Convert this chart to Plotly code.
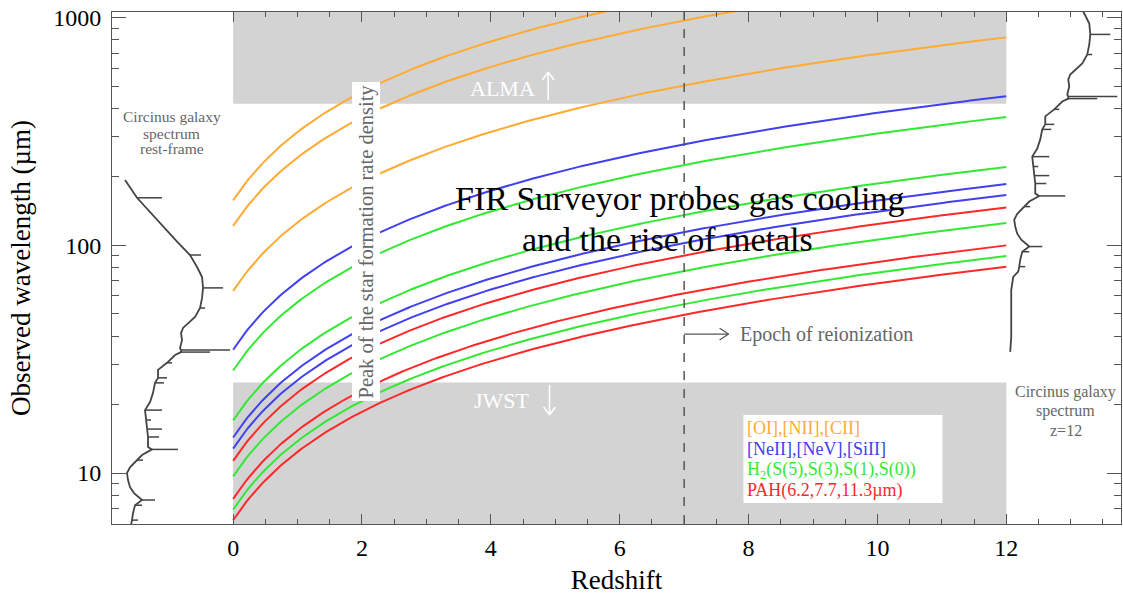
import numpy as np
import plotly.graph_objects as go

# ---------------- data ----------------
# rest-frame wavelengths (micron) of the tracked lines
fine_structure_oi_nii_cii = [63.18, 121.9, 157.7]
fine_structure_ne_si = [12.81, 14.32, 34.82]
h2_rotational = [6.91, 9.66, 17.03, 28.22]
pah_features = [6.2, 7.7, 11.3]

z_max = 12.0
z_reionization = 7.0
alma_min_wavelength = 420.0
jwst_max_wavelength = 25.0

# Circinus galaxy rest-frame spectrum (continuum), relative flux
spec_wavelength = [2.62, 3.05, 4.0, 4.9, 5.6, 5.91, 6.21, 6.66, 7.22, 7.61, 8.16, 8.67,
                   9.31, 10.0, 10.6, 11.4, 12.0, 12.7, 13.0, 14.4, 15.6, 17.1, 18.9,
                   20.5, 22.5, 24.9, 26.2, 28.4, 30.5, 33.0, 34.0, 34.7, 35.4, 38.4,
                   41.2, 43.4, 48.5, 53.1, 58.8, 65.1, 72.7, 80.4, 90.8, 104, 121,
                   143, 162, 194]
spec_flux = [0.11, 0.12, 0.12, 0.12, 0.14, 0.19, 0.20, 0.21, 0.23, 0.30, 0.22, 0.18,
             0.16, 0.15, 0.18, 0.25, 0.30, 0.40, 0.36, 0.36, 0.35, 0.34, 0.33,
             0.38, 0.41, 0.43, 0.46, 0.46, 0.55, 0.63, 0.69, 0.69, 0.68, 0.70,
             0.69, 0.71, 0.83, 0.88, 0.90, 0.91, 0.90, 0.85, 0.78, 0.65, 0.51,
             0.36, 0.25, 0.13]
# emission lines in the spectrum: wavelength, continuum level, peak level
emis_wavelength = [6.21, 7.22, 7.61, 11.4, 12.7, 14.4, 15.6, 17.1, 18.9, 24.9, 26.2,
                   30.5, 34.0, 34.7, 53.1, 65.1, 90.8, 162]
emis_base = [0.20, 0.23, 0.30, 0.25, 0.40, 0.36, 0.35, 0.34, 0.33, 0.43, 0.46,
             0.55, 0.69, 0.69, 0.88, 0.91, 0.78, 0.25]
emis_peak = [0.26, 0.30, 0.43, 0.31, 0.66, 0.47, 0.50, 0.39, 0.50, 0.52, 0.55,
             0.60, 0.98, 1.18, 0.93, 1.11, 0.89, 0.50]

x_ticks = [0, 2, 4, 6, 8, 10, 12]
y_ticks = [10, 100, 1000]

legend_labels = ["[OI],[NII],[CII]", "[NeII],[NeV],[SiII]",
                 "H<sub>2</sub>(S(5),S(3),S(1),S(0))", "PAH(6.2,7.7,11.3\u00b5m)"]

# ---------------- style ----------------
FONT = "Liberation Serif"
C_ORANGE = "#FFAA33"
C_BLUE = "#4040F0"
C_GREEN = "#33E833"
C_RED = "#FF2828"
C_SPEC = "#444444"
C_BAND = "#D3D3D3"
C_TXT = "#666666"
C_AX = "#555555"

X_RANGE = [-1.88, 13.78]
Y_RANGE = [0.776, 3.026]
SPEC_LEFT = -1.88
SPEC_RIGHT = 11.89
FLUX_SCALE = 1.553

fig = go.Figure()

# observing bands
for lo, hi in [(alma_min_wavelength, 1e4), (1.0, jwst_max_wavelength)]:
    fig.add_trace(go.Scatter(x=[0, z_max, z_max, 0, 0], y=[lo, lo, hi, hi, lo],
                             fill="toself", fillcolor=C_BAND, mode="none",
                             hoverinfo="skip", showlegend=False))

z = np.linspace(0, z_max, 300)
line_groups = [(fine_structure_oi_nii_cii, C_ORANGE), (fine_structure_ne_si, C_BLUE),
               (h2_rotational, C_GREEN), (pah_features, C_RED)]
for group, col in line_groups:
    for lam in group:
        fig.add_trace(go.Scatter(x=z, y=lam * (1 + z), mode="lines",
                                 line=dict(color=col, width=2), showlegend=False,
                                 hoverinfo="skip"))

# spectra (rest frame on the left, z=12 on the right)
sw = np.array(spec_wavelength)
sf = np.array(spec_flux)
for x0, zz in [(SPEC_LEFT, 0.0), (SPEC_RIGHT, z_max)]:
    fig.add_trace(go.Scatter(x=x0 + sf * FLUX_SCALE, y=sw * (1 + zz), mode="lines",
                             line=dict(color=C_SPEC, width=1.8), showlegend=False,
                             hoverinfo="skip"))
    xs, ys = [], []
    for w, b, p in zip(emis_wavelength, emis_base, emis_peak):
        xs += [x0 + b * FLUX_SCALE, x0 + p * FLUX_SCALE, None]
        ys += [w * (1 + zz), w * (1 + zz), None]
    fig.add_trace(go.Scatter(x=xs, y=ys, mode="lines",
                             line=dict(color=C_SPEC, width=1.5), showlegend=False,
                             hoverinfo="skip"))

# reionization dashed line
fig.add_shape(type="line", x0=z_reionization, x1=z_reionization, y0=0, y1=1,
              xref="x", yref="paper", line=dict(color=C_AX, width=1.5, dash="dash"))
# legend background box
fig.add_shape(type="rect", x0=7.92, x1=11.01, y0=7.38, y1=18.0, xref="x", yref="y",
              fillcolor="white", line=dict(width=0), layer="above")


def arrow(x_tail, y_tail, x_tip, y_tip, arms, color, width):
    """arrow made of a shaft and two head strokes (data coordinates)"""
    segs = [(x_tail, y_tail, x_tip, y_tip)] + [(ax_, ay_, x_tip, y_tip) for ax_, ay_ in arms]
    for a, b, c, d in segs:
        fig.add_shape(type="line", x0=a, y0=b, x1=c, y1=d, xref="x", yref="y",
                      line=dict(color=color, width=width), layer="above")


arrow(4.89, 436, 4.89, 579, [(4.80, 534), (4.98, 534)], "white", 1.6)
arrow(4.91, 24.4, 4.91, 18.0, [(4.82, 19.5), (5.00, 19.5)], "white", 1.6)
arrow(z_reionization, 40.8, 7.69, 40.8, [(7.55, 43.3), (7.55, 38.4)], C_AX, 1.2)

L = np.log10
ann = []


def txt(x, y, text, size, color, **kw):
    d = dict(x=x, y=L(y), text=text, showarrow=False,
             font=dict(family=FONT, size=size, color=color))
    d.update(kw)
    ann.append(d)


txt(2.07, 103.6, "Peak of the star formation rate density", 20.5, C_TXT,
    textangle=-90, bgcolor="white", borderpad=2)
txt(6.93, 160.1, "FIR Surveyor probes gas cooling", 34, "black")
txt(6.74, 105.7, "and the rise of metals", 34, "black")
txt(4.18, 492, "ALMA", 22, "white")
txt(4.17, 20.9, "JWST", 22, "white")
txt(7.84, 40.8, "Epoch of reionization", 20, C_TXT, xanchor="left")
for yy, t in zip([367, 312, 268], ["Circinus galaxy", "spectrum", "rest-frame"]):
    txt(-0.95, yy, t, 15.5, C_TXT, borderpad=0)
for yy, t in zip([22.7, 18.7, 15.45], ["Circinus galaxy", "spectrum", "z=12"]):
    txt(12.92, yy, t, 16, C_TXT, borderpad=0)
for yy, t, (_, col) in zip([15.78, 12.75, 10.31, 8.34], legend_labels, line_groups):
    txt(7.96, yy, t, 18, col, xanchor="left", borderpad=0)
fig.update_layout(annotations=ann)

minor_x = [v / 2 for v in range(1, 28) if v % 4 != 0]
minor_y = [m * d for d in (1, 10, 100) for m in range(2, 10)]

fig.update_layout(
    width=1123, height=595,
    margin=dict(l=112, r=2, t=12, b=71),
    plot_bgcolor="white", paper_bgcolor="white",
    font=dict(family=FONT, color="black"),
    xaxis=dict(range=X_RANGE, tickmode="array", tickvals=x_ticks, ticks="inside",
               ticklen=10, tickcolor=C_AX, showline=True, linecolor=C_AX,
               mirror="ticks", showgrid=False, zeroline=False, automargin=False,
               tickfont=dict(family=FONT, size=24), ticklabelstandoff=2,
               title=dict(text="Redshift", font=dict(family=FONT, size=27), standoff=10),
               minor=dict(tickmode="array", tickvals=minor_x, ticks="inside", ticklen=5,
                          tickcolor=C_AX, showgrid=False)),
    yaxis=dict(type="log", range=Y_RANGE, tickmode="array", tickvals=y_ticks,
               ticktext=["10", "100", "1000"], ticks="inside", ticklen=14,
               tickcolor=C_AX, showline=True, linecolor=C_AX, mirror="ticks",
               showgrid=False, zeroline=False, automargin=False,
               tickfont=dict(family=FONT, size=24), ticklabelstandoff=5,
               title=dict(text="Observed wavelength (\u00b5m)", font=dict(family=FONT, size=27),
                          standoff=14),
               minor=dict(tickmode="array", tickvals=minor_y, ticks="inside", ticklen=7,
                          tickcolor=C_AX, showgrid=False)),
)

fig.write_html("out.html", config={"displayModeBar": False},
               post_script="document.body.style.margin='0px';")
